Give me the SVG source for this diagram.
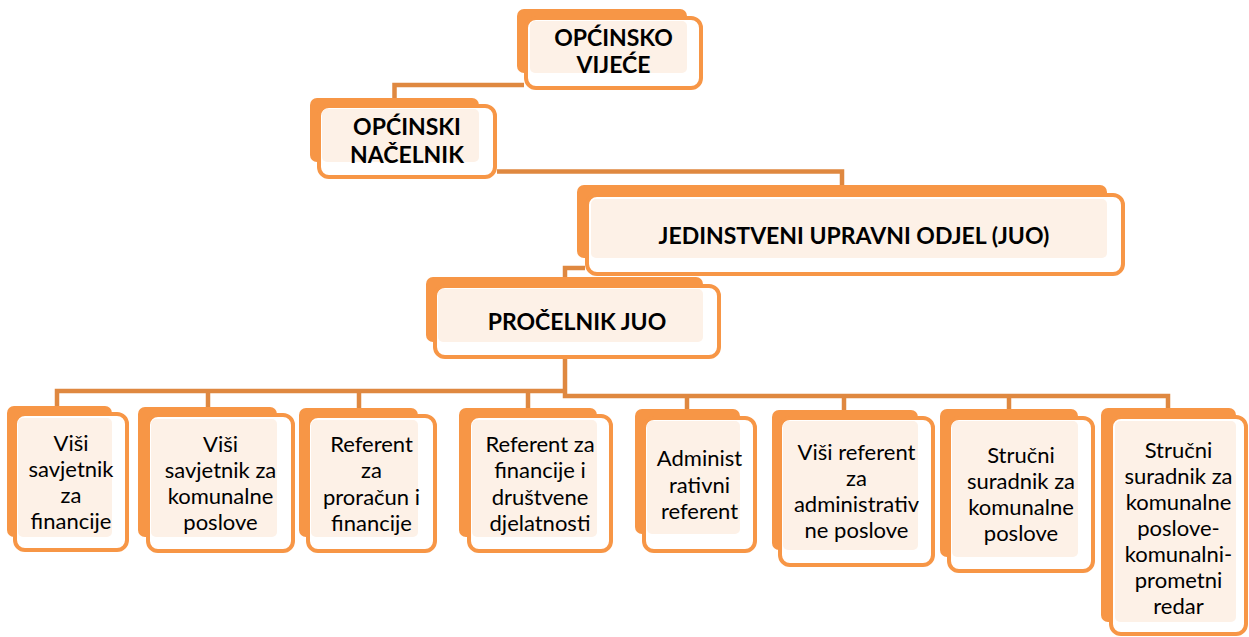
<svg xmlns="http://www.w3.org/2000/svg" width="1249" height="637" viewBox="0 0 1249 637">
<style>
.back{fill:#F79646}
.front{fill:#FFFFFF;stroke:#F79646;stroke-width:4}
.cream{fill:#FDF1E7}
.conn{fill:none;stroke:#DF8840;stroke-width:4.5}
.h{font-family:Lato,"Liberation Sans",sans-serif;font-weight:bold;font-size:23px;fill:#000;text-anchor:middle}
.b{font-family:Lato,"Liberation Sans",sans-serif;font-size:22px;fill:#000;text-anchor:middle}
</style>
<rect width="1249" height="637" fill="#FFFFFF"/>
<g id="connectors">
<path class="conn" d="M524,85 H394.5 V100" stroke="#CF7D3C"/>
<path class="conn" d="M497,171.5 H842 V187"/>
<path class="conn" d="M585,268 H565 V279"/>
<path class="conn" d="M565,359 V396 H1168 V410"/>
<path class="conn" d="M57,408 V391 H565"/>
<path class="conn" d="M208,391 V408"/>
<path class="conn" d="M359,391 V409"/>
<path class="conn" d="M528,391 V409"/>
<path class="conn" d="M687,396 V410"/>
<path class="conn" d="M844,396 V411"/>
<path class="conn" d="M1009,396 V410"/>
</g>
<g id="opcinsko-vijece">
<rect class="back" x="517" y="9" width="170" height="64" rx="7"/>
<rect class="front" x="526" y="18" width="175" height="70" rx="10"/>
<rect class="cream" x="530" y="21" width="157" height="52" rx="5"/>
<text class="h"><tspan x="613.5" y="46.3">OPĆINSKO</tspan><tspan x="613.5" y="73.3">VIJEĆE</tspan></text>
</g>
<g id="opcinski-nacelnik">
<rect class="back" x="310" y="98" width="169" height="64" rx="7"/>
<rect class="front" x="319" y="106" width="176" height="71" rx="10"/>
<rect class="cream" x="322" y="109" width="157" height="53" rx="5"/>
<text class="h"><tspan x="407" y="135">OPĆINSKI</tspan><tspan x="407" y="163.3">NAČELNIK</tspan></text>
</g>
<g id="juo">
<rect class="back" x="577" y="185" width="530" height="73" rx="7"/>
<rect class="front" x="587" y="195" width="536" height="79" rx="10"/>
<rect class="cream" x="591" y="199" width="516" height="59" rx="5"/>
<text class="h" x="854" y="244.3">JEDINSTVENI UPRAVNI ODJEL (JUO)</text>
</g>
<g id="procelnik">
<rect class="back" x="426" y="277" width="277" height="65" rx="7"/>
<rect class="front" x="435" y="286" width="284" height="71" rx="10"/>
<rect class="cream" x="438" y="289" width="265" height="53" rx="5"/>
<text class="h" x="577" y="329.8">PROČELNIK JUO</text>
</g>
<g id="b1">
<rect class="back" x="7" y="406" width="105" height="131" rx="7"/>
<rect class="front" x="15" y="414" width="112" height="136" rx="10"/>
<rect class="cream" x="18" y="418" width="94" height="119" rx="5"/>
<text class="b"><tspan x="71" y="450.5">Viši</tspan><tspan x="71" y="476.8">savjetnik</tspan><tspan x="71" y="503.1">za</tspan><tspan x="71" y="529.4">financije</tspan></text>
</g>
<g id="b2">
<rect class="back" x="138" y="407" width="139" height="130" rx="7"/>
<rect class="front" x="148" y="415" width="145" height="136" rx="10"/>
<rect class="cream" x="151" y="419" width="126" height="118" rx="5"/>
<text class="b"><tspan x="220.5" y="451.5">Viši</tspan><tspan x="220.5" y="477.8">savjetnik za</tspan><tspan x="220.5" y="504.1">komunalne</tspan><tspan x="220.5" y="530.4">poslove</tspan></text>
</g>
<g id="b3">
<rect class="back" x="299" y="408" width="119" height="129" rx="7"/>
<rect class="front" x="308" y="416" width="127" height="135" rx="10"/>
<rect class="cream" x="311" y="420" width="107" height="117" rx="5"/>
<text class="b"><tspan x="371.5" y="452">Referent</tspan><tspan x="371.5" y="478.3">za</tspan><tspan x="371.5" y="504.6">proračun i</tspan><tspan x="371.5" y="530.9">financije</tspan></text>
</g>
<g id="b4">
<rect class="back" x="459" y="408" width="138" height="129" rx="7"/>
<rect class="front" x="469" y="416" width="142" height="135" rx="10"/>
<rect class="cream" x="472" y="420" width="125" height="117" rx="5"/>
<text class="b"><tspan x="540" y="452">Referent za</tspan><tspan x="540" y="478.3">financije i</tspan><tspan x="540" y="504.6">društvene</tspan><tspan x="540" y="530.9">djelatnosti</tspan></text>
</g>
<g id="b5">
<rect class="back" x="635" y="409" width="105" height="125" rx="7"/>
<rect class="front" x="644" y="418" width="111" height="133" rx="10"/>
<rect class="cream" x="647" y="421" width="93" height="113" rx="5"/>
<text class="b"><tspan x="699.5" y="466.2">Administ</tspan><tspan x="699.5" y="492.5">rativni</tspan><tspan x="699.5" y="518.8">referent</tspan></text>
</g>
<g id="b6">
<rect class="back" x="772" y="410" width="146" height="140" rx="7"/>
<rect class="front" x="780" y="418" width="153" height="147" rx="10"/>
<rect class="cream" x="783" y="421" width="135" height="129" rx="5"/>
<text class="b"><tspan x="856.5" y="459.5">Viši referent</tspan><tspan x="856.5" y="485.8">za</tspan><tspan x="856.5" y="512.1">administrativ</tspan><tspan x="856.5" y="538.4">ne poslove</tspan></text>
</g>
<g id="b7">
<rect class="back" x="940" y="409" width="138" height="148" rx="7"/>
<rect class="front" x="949" y="418" width="144" height="153" rx="10"/>
<rect class="cream" x="952" y="421" width="126" height="136" rx="5"/>
<text class="b"><tspan x="1021" y="462.5">Stručni</tspan><tspan x="1021" y="488.8">suradnik za</tspan><tspan x="1021" y="515.1">komunalne</tspan><tspan x="1021" y="541.4">poslove</tspan></text>
</g>
<g id="b8">
<rect class="back" x="1101" y="408" width="135" height="214" rx="7"/>
<rect class="front" x="1111" y="417" width="135" height="217" rx="10"/>
<rect class="cream" x="1115" y="421" width="121" height="201" rx="5"/>
<text class="b"><tspan x="1178.5" y="457.5">Stručni</tspan><tspan x="1178.5" y="483.6">suradnik za</tspan><tspan x="1178.5" y="509.7">komunalne</tspan><tspan x="1178.5" y="535.8">poslove-</tspan><tspan x="1178.5" y="561.9">komunalni-</tspan><tspan x="1178.5" y="588">prometni</tspan><tspan x="1178.5" y="614.1">redar</tspan></text>
</g>
</svg>
